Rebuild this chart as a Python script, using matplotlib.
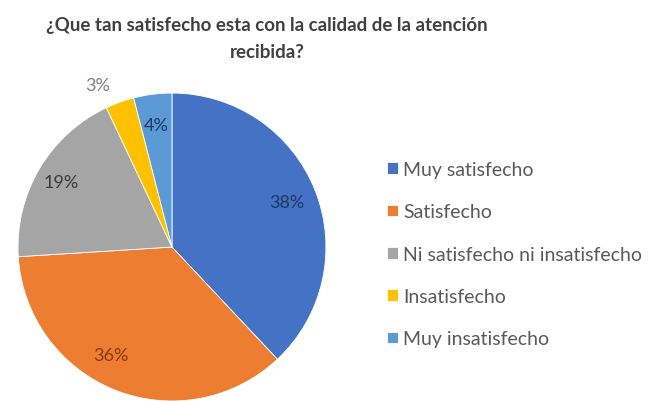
import matplotlib.pyplot as plt

categorias = ["Muy satisfecho", "Satisfecho", "Ni satisfecho ni insatisfecho",
              "Insatisfecho", "Muy insatisfecho"]
porcentajes = [38, 36, 19, 3, 4]
colores = ["#4472C4", "#ED7D31", "#A5A5A5", "#FFC000", "#5B9BD5"]
colores_texto = ["#1F3864", "#843C0C", "#3A3A3A", "#7F7F7F", "#1F3864"]

plt.rcParams['font.family'] = ['Lato', 'DejaVu Sans']

fig = plt.figure(figsize=(6.56, 4.02), dpi=100)
fig.patch.set_facecolor('white')

ax = fig.add_axes([0.0274, 0.0, 0.4695, 0.766])
wedges, textos, autotextos = ax.pie(
    porcentajes, colors=colores, startangle=90, counterclock=False,
    autopct=lambda p: f"{p:.0f}%", pctdistance=0.8, radius=1.0,
    wedgeprops=dict(linewidth=0.6, edgecolor='white'),
    textprops=dict(fontsize=13))
for t, c in zip(autotextos, colores_texto):
    t.set_color(c)
# etiquetas ajustadas a mano
autotextos[1].set_position((-0.4, -0.7))
autotextos[2].set_position((-0.72, 0.42))
# the small 3% slice gets its label outside the pie
autotextos[3].set_position((-0.48, 1.05))
ax.set_xlim(-1, 1)
ax.set_ylim(-1, 1)
ax.set_aspect('equal')

fig.text(0.407, 0.903, "¿Que tan satisfecho esta con la calidad de la atención\nrecibida?",
         ha='center', va='center', fontsize=13.5, fontweight='bold',
         color='#404040', linespacing=1.7)

fig.legend(wedges, categorias, loc='upper left', bbox_to_anchor=(0.563, 0.64),
           frameon=False, fontsize=14, handlelength=0.55, handleheight=0.55,
           handletextpad=0.3, labelspacing=1.3, labelcolor='#595959')

fig.savefig("out.png", dpi=100, facecolor='white')
